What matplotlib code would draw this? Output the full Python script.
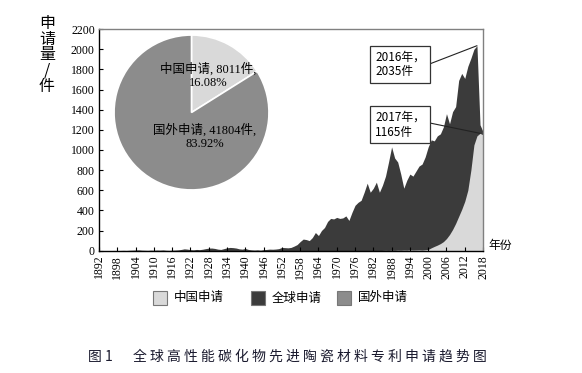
import matplotlib
matplotlib.use("Agg")
import matplotlib.pyplot as plt
import numpy as np
from matplotlib.patches import Rectangle

plt.rcParams['font.family'] = ['Liberation Serif', 'Noto Sans CJK SC']

# ---- data ----
years = np.arange(1892, 2019)

global_apps = [
    0, 0, 1, 0, 1, 2, 1, 2, 3, 2,            # 1892-1901
    4, 5, 6, 8, 5, 4, 3, 5, 4, 6,            # 1902-1911
    5, 7, 4, 3, 5, 6, 8, 12, 18, 15,         # 1912-1921
    10, 8, 12, 10, 14, 20, 25, 26, 22, 15,   # 1922-1931
    12, 20, 28, 32, 30, 26, 18, 15, 22, 12,  # 1932-1941
    8, 6, 8, 5, 10, 12, 15, 14, 16, 20,      # 1942-1951
    32, 30, 28, 32, 45, 60, 90, 115, 110, 100,      # 1952-1961
    130, 180, 150, 200, 230, 290, 320, 315, 330, 320,  # 1962-1971
    325, 345, 300, 380, 450, 480, 500, 580, 670, 580,  # 1972-1981
    620, 680, 580, 650, 740, 880, 1030, 920, 880, 760,  # 1982-1991
    620, 700, 760, 740, 790, 840, 860, 930, 1030, 1100,  # 1992-2001
    1090, 1140, 1160, 1230, 1360, 1260, 1380, 1430, 1690, 1760,  # 2002-2011
    1710, 1830, 1910, 2000, 2035, 1250, 1180,  # 2012-2018
]

china_apps = [0] * 93 + [
    2, 3, 2, 4, 3, 5, 4, 6, 5, 8,            # 1985-1994
    6, 7, 8, 6, 9, 12, 28, 42, 55, 70,       # 1995-2004
    90, 120, 160, 210, 270, 340, 410, 490, 600, 800,  # 2005-2014
    1050, 1140, 1165, 1150,                  # 2015-2018
]

xtick_years = list(range(1892, 2019, 6))
ytick_vals = list(range(0, 2201, 200))

pie_names = ['中国申请', '国外申请']
pie_counts = [8011, 41804]
pie_pcts = ['16.08%', '83.92%']

legend_names = ['中国申请', '全球申请', '国外申请']

c_china = '#d9d9d9'
c_global = '#3b3b3b'
c_foreign = '#8c8c8c'

fig = plt.figure(figsize=(5.82, 3.73), dpi=100)
ax = fig.add_axes([0.170, 0.328, 0.660, 0.594])

ax.fill_between(years, global_apps, color=c_global, lw=0)
ax.fill_between(years, china_apps, color=c_china, lw=0)

ax.set_xlim(1892, 2018)
ax.set_ylim(0, 2200)
ax.set_xticks(xtick_years)
ax.set_xticklabels([str(y) for y in xtick_years], rotation=90, fontsize=8.5)
ax.set_yticks(ytick_vals)
ax.set_yticklabels([str(v) for v in ytick_vals], fontsize=8.5)
ax.tick_params(direction='in', length=3, width=0.8, pad=3)
for s in ['top', 'right']:
    ax.spines[s].set_color('#808080')
    ax.spines[s].set_linewidth(1.0)
for s in ['left', 'bottom']:
    ax.spines[s].set_color('black')
    ax.spines[s].set_linewidth(1.0)

# annotations
ann_font = ['Noto Sans CJK SC']
i16 = list(years).index(2016)
i17 = list(years).index(2017)
box = dict(boxstyle='square,pad=0.4', fc='white', ec='#333333', lw=0.9)
ax.annotate(f'{years[i16]}年，\n{global_apps[i16]}件', xy=(years[i16], global_apps[i16]),
            xytext=(1990.8, 1850), fontsize=8.5, family=ann_font, linespacing=1.15,
            ha='center', va='center', multialignment='left', bbox=box,
            arrowprops=dict(arrowstyle='-', color='#222222', lw=0.8,
                            shrinkA=0, shrinkB=0, relpos=(1.0, 0.45)))
ax.annotate(f'{years[i17]}年，\n{china_apps[i17]}件', xy=(years[i17], china_apps[i17]),
            xytext=(1990.8, 1250), fontsize=8.5, family=ann_font, linespacing=1.15,
            ha='center', va='center', multialignment='left', bbox=box,
            arrowprops=dict(arrowstyle='-', color='#222222', lw=0.8,
                            shrinkA=0, shrinkB=0, relpos=(1.0, 0.6)))

# pie inset
pax = fig.add_axes([0.1933, 0.4866, 0.2715, 0.4236])
pax.pie(pie_counts, colors=[c_china, c_foreign], startangle=90, counterclock=False,
        radius=1.0, wedgeprops=dict(edgecolor='white', linewidth=1.2))
pax.set_xlim(-1.02, 1.02)
pax.set_ylim(-1.02, 1.02)
pax.set_aspect('equal')
pax.axis('off')
pax.text(0.21, 0.47, f'{pie_names[0]}, {pie_counts[0]}件,\n{pie_pcts[0]}', ha='center',
         va='center', fontsize=9, linespacing=1.15)
pax.text(0.17, -0.31, f'{pie_names[1]}, {pie_counts[1]}件,\n{pie_pcts[1]}', ha='center',
         va='center', fontsize=9, linespacing=1.15)

# y label stacked and x unit
fig.text(47 / 582, 1 - 55 / 373, '申\n请\n量\n/\n件', ha='center', va='center', fontsize=11.5,
         family=['Noto Sans CJK SC'], linespacing=0.92)
fig.text(488 / 582, 1 - 245 / 373, '年份', ha='left', va='center', fontsize=8.5,
         family=['Noto Sans CJK SC'])

# legend
leg_x = [153, 251, 337]
for xb, name, col in zip(leg_x, legend_names, [c_china, c_global, c_foreign]):
    fig.patches.append(Rectangle((xb / 582, 1 - 305 / 373), 14 / 582, 14 / 373,
                                 transform=fig.transFigure, fc=col, ec='#777777', lw=0.8))
    fig.text((xb + 21) / 582, 1 - 298 / 373, name, ha='left', va='center', fontsize=9,
             family=['Noto Sans CJK SC'])

# caption
fig.text(88 / 582, 1 - 357 / 373, '图 1', ha='left', va='center', fontsize=10,
         family=['Noto Sans CJK SC'], color='#1a1a2e')
fig.text(133 / 582, 1 - 357 / 373, ' '.join('全球高性能碳化物先进陶瓷材料专利申请趋势图'),
         ha='left', va='center', fontsize=10, family=['Noto Sans CJK SC'], color='#1a1a2e')

fig.savefig('out.png', dpi=100)
